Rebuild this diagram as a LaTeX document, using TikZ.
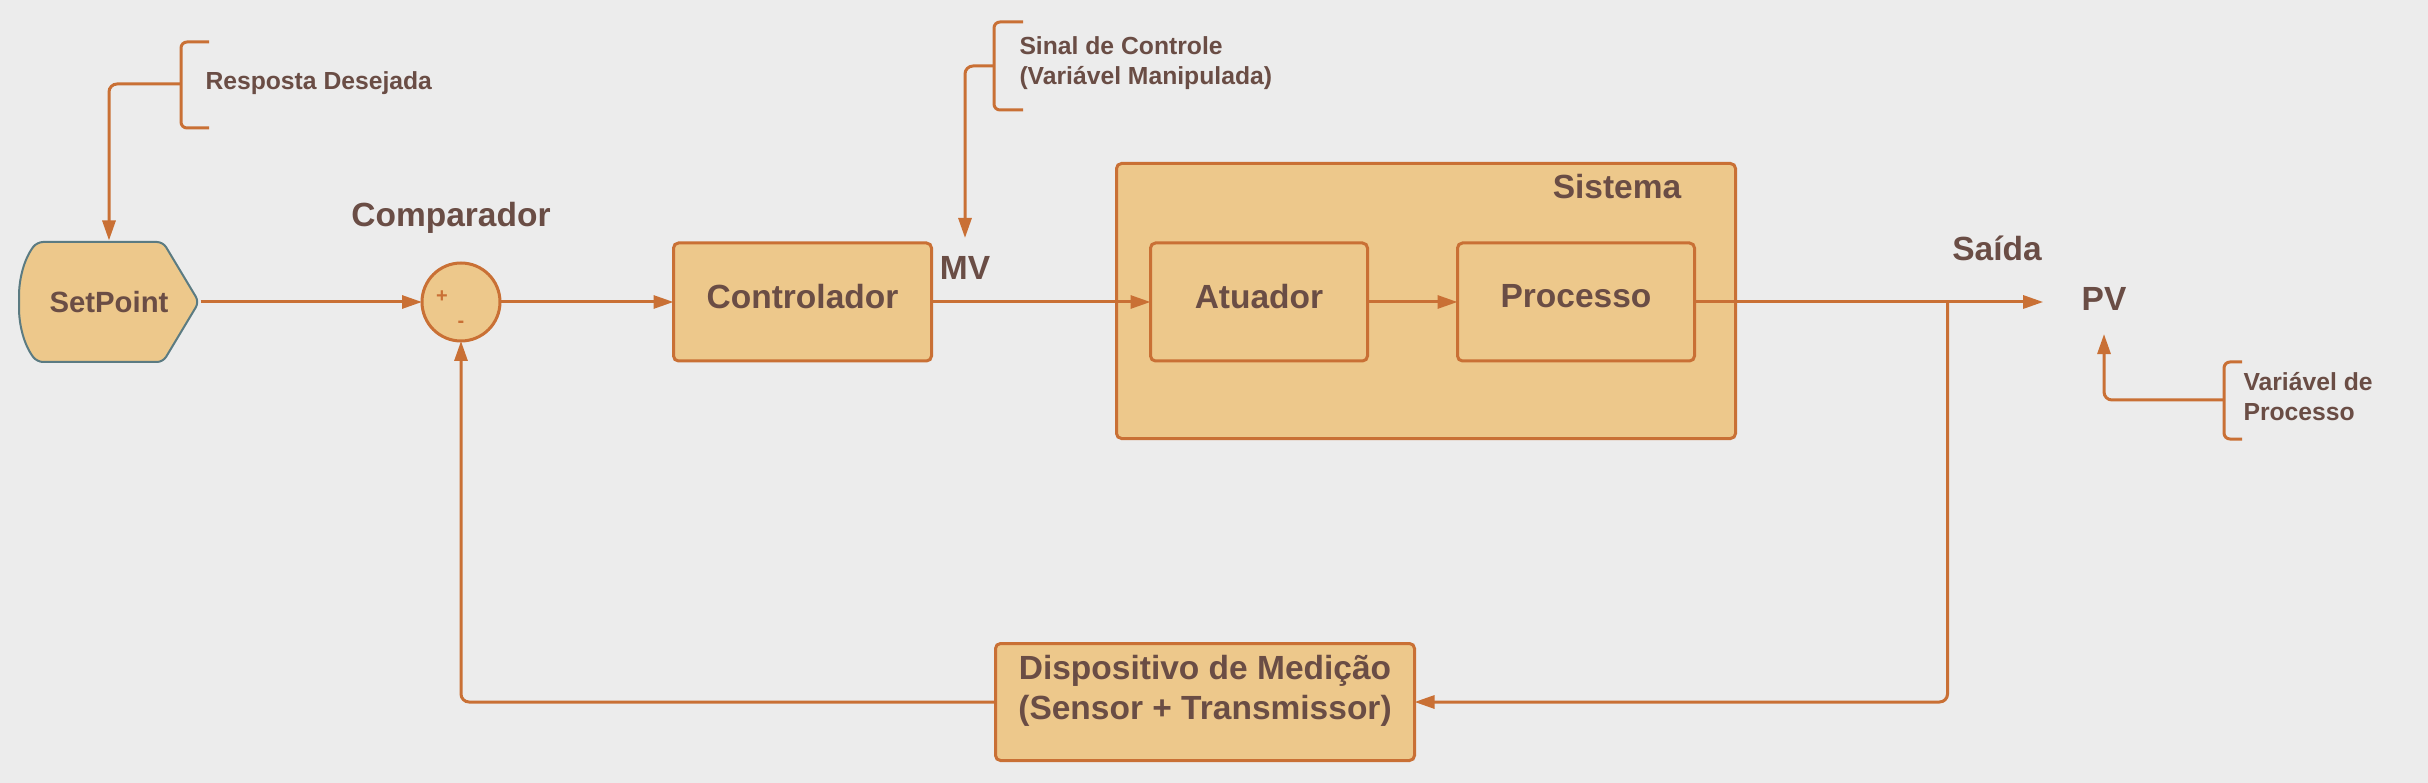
\documentclass[tikz,border=0pt]{standalone}
\usepackage{fontspec}
\setmainfont{Liberation Sans}
\definecolor{ctlOrange}{HTML}{C97035}
\definecolor{ctlFill}{HTML}{EDC88B}
\definecolor{ctlText}{HTML}{6A4D45}
\definecolor{ctlSlate}{HTML}{5B7B82}
\definecolor{ctlBack}{HTML}{ECECEC}
\usetikzlibrary{arrows.meta, positioning, calc}

\begin{document}
\begin{tikzpicture}[
  x=1pt, y=-1pt, line width=3pt,
  block/.style={rounded corners=5pt, draw=ctlOrange, fill=ctlFill, text=ctlText,
    font=\fontsize{33.5}{40}\selectfont\bfseries, outer sep=0pt, minimum height=118pt,
    text depth=12pt},
  tag/.style={text=ctlText, font=\fontsize{33.5}{40}\selectfont\bfseries, inner sep=0pt},
  note/.style={text=ctlText, font=\fontsize{24.7}{30}\selectfont\bfseries, inner sep=0pt,
    align=left, anchor=west},
  sign/.style={text=ctlOrange, font=\fontsize{20}{24}\selectfont\bfseries, inner sep=0pt},
  flow/.style={draw=ctlOrange, -{Triangle[length=20pt, width=13pt]}, rounded corners=8pt},
  brace/.style={draw=ctlOrange, rounded corners=6pt}]
  \fill[ctlBack] (0,0) rectangle (2428,783);

  \filldraw[draw=ctlSlate, fill=ctlFill, line width=2pt, rounded corners=6pt]
    (100,242) -- (163,242) -- (199,302) -- (163,362) -- (37,362)
    .. controls (24,345) and (19,325) .. (19,302)
    .. controls (19,279) and (24,259) .. (37,242) -- cycle;
  \node[tag, font=\fontsize{29.3}{35}\selectfont\bfseries, minimum width=180pt,
    minimum height=120pt] (setpoint) at (109,302) {SetPoint};

  \node[circle, draw=ctlOrange, fill=ctlFill, minimum size=78pt, inner sep=0pt,
    outer sep=0pt] (comp) at (461,302) {};
  \node[sign] (plus) at (442,297) {+};
  \node[sign] (minus) at (461,324) {-};
  \node[tag] (compname) at (451,218) {Comparador};

  \node[block, minimum width=258pt, right=173.5pt of comp] (ctrl) {Controlador};
  \node[tag] (mv) at (965,268) {MV};

  \node[block, minimum width=619pt, minimum height=275pt] (sys) at (1426,301) {};
  \node[tag] (sysname) at (1617,187) {Sistema};
  \node[block, minimum width=217pt, right=219pt of ctrl] (act) {Atuador};
  \node[block, minimum width=237pt, right=90pt of act] (proc) {Processo};

  \node[tag] (out) at (1997,248) {Saída};
  \node[tag] (pv) at (2104,299) {PV};

  \node[block, minimum width=419pt, minimum height=117pt, align=center, text depth=30pt]
    (meas) at (1205,702) {Dispositivo de Medição\\(Sensor + Transmissor)};

  \node[note] (resp) at (204,83) {Resposta Desejada};
  \node[note] (sig) at (1018,63) {Sinal de Controle\\(Variável Manipulada)};
  \node[note] (pvnote) at (2242,397) {Variável de\\Processo};

  \draw[brace] (209,42) -- (181,42) -- (181,128) -- (209,128);
  \draw[brace] (1023,22) -- (994,22) -- (994,110) -- (1023,110);
  \draw[brace] (2242,362) -- (2224,362) -- (2224,439) -- (2242,439);
  \coordinate (respmid) at (181,84);
  \coordinate (sigmid) at (994,66);
  \coordinate (pvmid) at (2224,400);
  \path (proc.east) -- ++(253,0) coordinate (tap);

  \draw[flow] (respmid) -| (setpoint.north);
  \draw[flow, shorten >=17pt] (sigmid) -| (mv.north);
  \draw[flow, shorten >=22pt] (pvmid) -| (pv.south);
  \draw[flow] (setpoint.east) -- (comp.west);
  \draw[flow] (comp.east) -- (ctrl.west);
  \draw[flow] (ctrl.east) -- (act.west);
  \draw[flow] (act.east) -- (proc.west);
  \draw[flow, shorten >=37pt] (proc.east) -- (proc.east -| pv.west);
  \draw[flow] (tap) |- (meas.east);
  \draw[flow] (meas.west) -| (comp.south);
\end{tikzpicture}
\end{document}
